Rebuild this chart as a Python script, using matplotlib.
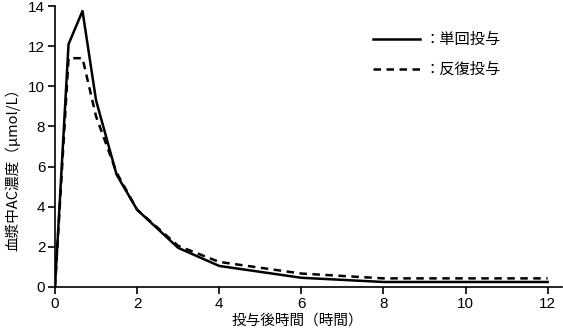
import matplotlib
matplotlib.use('Agg')
import matplotlib.pyplot as plt

plt.rcParams['font.family'] = ['Noto Sans CJK JP', 'DejaVu Sans']

# time after dosing (hours)
hours = [0, 0.33, 0.67, 1, 1.5, 2, 3, 4, 6, 8, 12]
# plasma AC concentration (umol/L)
single = [0, 12.1, 13.75, 9.3, 5.6, 3.85, 1.95, 1.05, 0.46, 0.25, 0.25]
repeated = [0, 11.4, 11.4, 8.5, 5.7, 3.85, 2.05, 1.25, 0.67, 0.43, 0.43]

labels = ['：単回投与', '：反復投与']

fig = plt.figure(figsize=(5.63, 3.30), dpi=100)
ax = fig.add_axes([55 / 563, 1 - 287 / 330, (562 - 55) / 563, (287 - 6) / 330])

ax.plot(hours, single, color='black', linestyle='-', linewidth=1.8, label=labels[0])
ax.plot(hours, repeated, color='black', linestyle=(0, (3, 2.2)), linewidth=1.8, label=labels[1])

ax.set_xlim(0, 12.35)
ax.set_ylim(0, 14)
ax.set_xticks([0, 2, 4, 6, 8, 10, 12])
ax.set_yticks([0, 2, 4, 6, 8, 10, 12, 14])

for side in ('top', 'right'):
    ax.spines[side].set_visible(False)
ax.spines['left'].set_linewidth(1.2)
ax.spines['bottom'].set_linewidth(1.2)
ax.tick_params(direction='out', length=5, width=1.2, labelsize=11, pad=2)
for tick in ax.get_xticklabels() + ax.get_yticklabels():
    tick.set_family('Liberation Sans')

ax.set_xlabel('投与後時間（時間）', fontsize=10.5)
ax.set_ylabel('血漿中AC濃度（μmol/L）', fontsize=10.5)
ax.xaxis.set_label_coords(0.478, -0.093)
ax.yaxis.set_label_coords(-0.068, 0.43)

ax.legend(loc='upper left', bbox_to_anchor=(0.6, 0.96), frameon=False,
          fontsize=11, handlelength=3.1, handletextpad=0.3, labelspacing=0.85)

fig.savefig('out.png', dpi=100)
